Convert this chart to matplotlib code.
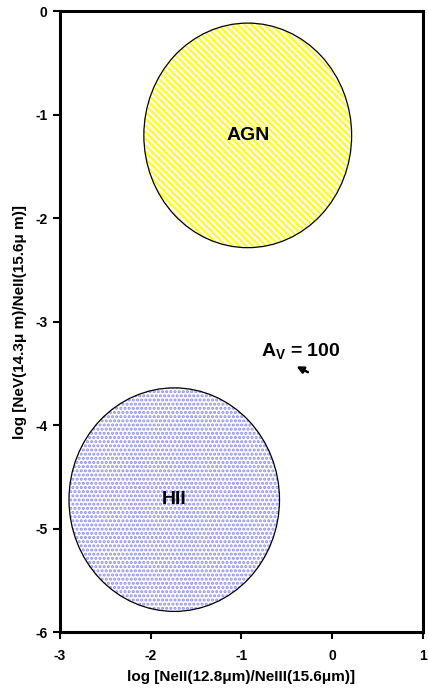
import matplotlib
matplotlib.use("Agg")
import matplotlib.pyplot as plt
from matplotlib.patches import Ellipse

# ── Data ──────────────────────────────────────────────────
regions   = ["AGN", "HII"]
centers_x = [-0.93, -1.74]
centers_y = [-1.20, -4.72]
widths    = [2.29, 2.32]
heights   = [2.17, 2.16]
face_cols = ["#ffff00", "#8c8cff"]
hatches   = ["\\\\\\\\\\", "...."]

av_label  = "$A_V$ = 100"
av_text   = (-0.78, -3.28)
av_tail   = (-0.24, -3.50)
av_head   = (-0.42, -3.42)

xticks = [-3, -2, -1, 0, 1]
yticks = [0, -1, -2, -3, -4, -5, -6]

# ── Style ─────────────────────────────────────────────────
plt.rcParams["font.family"] = ["Liberation Sans", "DejaVu Sans"]
plt.rcParams["font.weight"] = "bold"
plt.rcParams["axes.unicode_minus"] = False
plt.rcParams["mathtext.fontset"] = "custom"
plt.rcParams["mathtext.rm"] = "Liberation Sans:bold"
plt.rcParams["mathtext.it"] = "Liberation Sans:bold"
plt.rcParams["mathtext.bf"] = "Liberation Sans:bold"
plt.rcParams["hatch.linewidth"] = 1.5

fig = plt.figure(figsize=(4.28, 7.0), dpi=100)
ax = fig.add_axes([0.140, 0.097, 0.848, 0.887])

for name, cx, cy, w, h, col, hat in zip(regions, centers_x, centers_y,
                                        widths, heights, face_cols, hatches):
    ax.add_patch(Ellipse((cx, cy), w, h, facecolor="white",
                         edgecolor=col, hatch=hat, linewidth=0))
    ax.add_patch(Ellipse((cx, cy), w, h, fill=False,
                         edgecolor="black", linewidth=0.9))
    ax.text(cx, cy, name, ha="center", va="center",
            fontsize=14, fontweight="bold")

ax.text(av_text[0], av_text[1], av_label, ha="left", va="center",
        fontsize=14, fontweight="bold")
ax.annotate("", xy=av_head, xytext=av_tail,
            arrowprops=dict(arrowstyle="-|>", color="black", lw=1.8,
                            mutation_scale=10))

ax.set_xlim(-3, 1)
ax.set_ylim(-6, 0)
ax.set_xticks(xticks)
ax.set_yticks(yticks)
ax.set_xticklabels([str(t) for t in xticks])
ax.set_yticklabels([str(t) for t in yticks])
ax.tick_params(direction="out", length=5, width=1.5, labelsize=10, pad=7)
ax.tick_params(axis="y", pad=4)
for s in ax.spines.values():
    s.set_linewidth(2.2)

ax.set_xlabel("log [NeII(12.8μm)/NeIII(15.6μm)]", fontsize=11,
              fontweight="bold", labelpad=5)
ax.set_ylabel("log [NeV(14.3μ m)/NeII(15.6μ m)]", fontsize=11,
              fontweight="bold", labelpad=6)

plt.savefig("out.png", dpi=100)
plt.close()
